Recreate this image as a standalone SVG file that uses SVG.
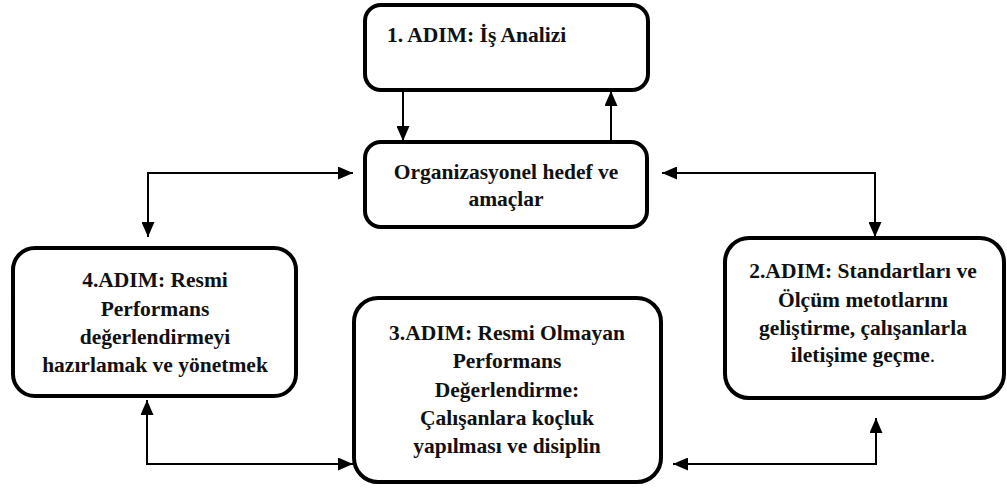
<svg xmlns="http://www.w3.org/2000/svg" width="1007" height="490" viewBox="0 0 1007 490">
<style>
.box{fill:#fff;stroke:#000;stroke-width:4}
.t{font-family:"Liberation Serif","Times New Roman",serif;font-weight:bold;font-size:21.5px;fill:#111}
.c{text-anchor:middle}
.ln{fill:none;stroke:#000;stroke-width:2}
</style>
<defs>
<marker id="ah" viewBox="0 0 15 13" refX="15" refY="6.5" markerWidth="15" markerHeight="13" markerUnits="userSpaceOnUse" orient="auto-start-reverse">
<path d="M0,0 L15,6.5 L0,13 Z" fill="#000"/>
</marker>
</defs>
<g id="connectors">
<line class="ln" x1="403" y1="90" x2="403" y2="141" marker-end="url(#ah)"/>
<line class="ln" x1="611" y1="142" x2="611" y2="91" marker-end="url(#ah)"/>
<polyline class="ln" points="353,173 148,173 148,237" marker-start="url(#ah)" marker-end="url(#ah)"/>
<polyline class="ln" points="662,173 875,173 875,237" marker-start="url(#ah)" marker-end="url(#ah)"/>
<polyline class="ln" points="147,400 147,464 353,464" marker-start="url(#ah)" marker-end="url(#ah)"/>
<polyline class="ln" points="673,464 876,464 876,418" marker-start="url(#ah)" marker-end="url(#ah)"/>
</g>
<g id="step1">
<rect class="box" x="365" y="5" width="283" height="85" rx="16"/>
<text class="t" x="387" y="42">1. ADIM: İş Analizi</text>
</g>
<g id="org">
<rect class="box" x="365" y="142" width="282" height="85" rx="16"/>
<text class="t c" x="506" y="179">Organizasyonel hedef ve</text>
<text class="t c" x="506" y="206">amaçlar</text>
</g>
<g id="step4">
<rect class="box" x="13" y="248" width="283" height="148" rx="22"/>
<text class="t c" x="155" y="287">4.ADIM: Resmi</text>
<text class="t c" x="155" y="316">Performans</text>
<text class="t c" x="155" y="344">değerlendirmeyi</text>
<text class="t c" x="155" y="372">hazırlamak ve yönetmek</text>
</g>
<g id="step3">
<rect class="box" x="354" y="298" width="307" height="184" rx="24"/>
<text class="t c" x="507" y="340">3.ADIM: Resmi Olmayan</text>
<text class="t c" x="507" y="368">Performans</text>
<text class="t c" x="507" y="397">Değerlendirme:</text>
<text class="t c" x="507" y="425">Çalışanlara koçluk</text>
<text class="t c" x="507" y="453">yapılması ve disiplin</text>
</g>
<g id="step2">
<rect class="box" x="725" y="238" width="279" height="160" rx="24"/>
<text class="t c" x="863" y="278">2.ADIM: Standartları ve</text>
<text class="t c" x="863" y="307">Ölçüm metotlarını</text>
<text class="t c" x="863" y="335">geliştirme, çalışanlarla</text>
<text class="t c" x="863" y="362">iletişime geçme<tspan font-weight="normal">.</tspan></text>
</g>
</svg>
